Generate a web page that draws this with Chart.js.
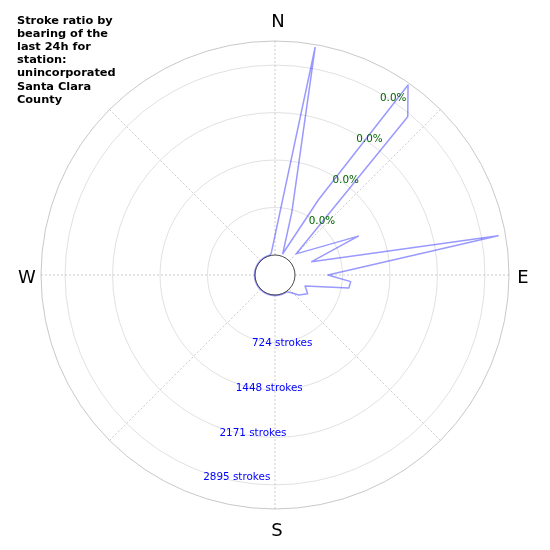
<!DOCTYPE html>
<html>
<head>
<meta charset="utf-8">
<style>html,body{margin:0;padding:0;background:#fff}#w{width:550px;height:550px}</style>
<script src="https://cdn.jsdelivr.net/npm/chart.js@4/dist/chart.umd.min.js"></script>
</head>
<body>
<div id="w"><canvas id="c" width="550" height="550"></canvas></div>
<script>
const titleLines = ['Stroke ratio by','bearing of the','last 24h for','station:','unincorporated','Santa Clara','County'];
const bearings = [0,5,10,15,20,25,30,35,40,45,50,55,60,65,70,75,80,85,90,95,100,105,110,115,120,125,130,135,140,145,150,155,160,165,170,175,180,185,190,195,200,205,210,215,220,225,230,235,240,245,250,255,260,265,270,275,280,285,290,295,300,305,310,315,320,325,330,335,340,345,350,355];
const strokes = [null,null,3216,690,40,null,1015,3231,2843,150,null,null,null,1097,290,null,3149,null,503,854,838,null,183,null,270,null,168,null,40,8,8,8,8,8,8,8,8,8,8,8,8,8,8,8,8,8,8,8,8,8,8,8,8,8,8,8,8,8,8,8,8,8,8,8,8,8,8,8,8,8,30,null];
const strokeTicks = [0,724,1448,2171,2895,3262];
const strokeTickLabels = ['724 strokes','1448 strokes','2171 strokes','2895 strokes'];
const percentLabels = ['0.0%','0.0%','0.0%','0.0%'];
const compass = {0:'N',90:'E',180:'S',270:'W'};
const compassOffset = {0:[3,-253],90:[248,3],180:[2,256],270:[-248,3]};
const FONT = '"DejaVu Sans"';

const annotate = {
  id:'annotate',
  afterDatasetsDraw(chart){
    const s = chart.scales.r, ctx = chart.ctx;
    ctx.save();
    const r0 = s.getDistanceFromCenterForValue(0);
    ctx.beginPath(); ctx.arc(s.xCenter,s.yCenter,r0,0,Math.PI*2);
    ctx.strokeStyle='#333'; ctx.lineWidth=0.9; ctx.stroke();
    ctx.textAlign='left'; ctx.textBaseline='top';
    ctx.font='10.4px '+FONT;
    ctx.fillStyle='#0000ff';
    strokeTickLabels.forEach((t,i)=>{
      const p=s.getPointPositionForValue(bearings.indexOf(200),strokeTicks[i+1]);
      ctx.fillText(t,p.x,p.y);
    });
    ctx.fillStyle='#006400';
    percentLabels.forEach((t,i)=>{
      const p=s.getPointPositionForValue(bearings.indexOf(30),strokeTicks[i+1]);
      ctx.fillText(t,p.x,p.y-0.5);
    });
    ctx.fillStyle='#000'; ctx.font='18px '+FONT;
    ctx.textAlign='center'; ctx.textBaseline='middle';
    Object.keys(compass).forEach(b=>{
      const o=compassOffset[b];
      ctx.fillText(compass[b],s.xCenter+o[0],s.yCenter+o[1]);
    });
    ctx.fillStyle='#000'; ctx.font='bold 11.35px '+FONT;
    ctx.textAlign='left'; ctx.textBaseline='alphabetic';
    titleLines.forEach((l,i)=>ctx.fillText(l,17,24+i*13.1));
    ctx.restore();
  },
  beforeDatasetsDraw(chart){
    const s = chart.scales.r, ctx = chart.ctx;
    ctx.save();
    ctx.beginPath(); ctx.arc(s.xCenter,s.yCenter,s.getDistanceFromCenterForValue(0),0,Math.PI*2);
    ctx.fillStyle='#fff'; ctx.fill();
    ctx.restore();
  }
};

new Chart(document.getElementById('c'),{
  type:'radar',
  data:{labels:bearings,datasets:[{data:strokes,borderColor:'rgba(0,0,255,0.4)',borderWidth:1.5,borderJoinStyle:'round',fill:false,pointRadius:0,tension:0,spanGaps:true}]},
  options:{
    responsive:false,animation:false,devicePixelRatio:1,
    layout:{padding:41},
    plugins:{legend:{display:false},title:{display:false},tooltip:{enabled:false}},
    scales:{r:{
      min:-304.8,max:3262,
      afterBuildTicks(a){a.ticks=strokeTicks.map(v=>({value:v}));},
      ticks:{display:false},
      pointLabels:{display:false},
      grid:{circular:true,lineWidth:0.7,color:c=>c.tick&&c.tick.value===3262?'#b0b0b0':(c.tick&&c.tick.value===0?'rgba(0,0,0,0)':'#d4d4d4')},
      angleLines:{display:true,lineWidth:0.7,borderDash:[2,2],
        color:c=>bearings[c.index]%45===0?'#b5b5b5':'rgba(0,0,0,0)'}
    }}
  },
  plugins:[annotate]
});
</script>
</body>
</html>
